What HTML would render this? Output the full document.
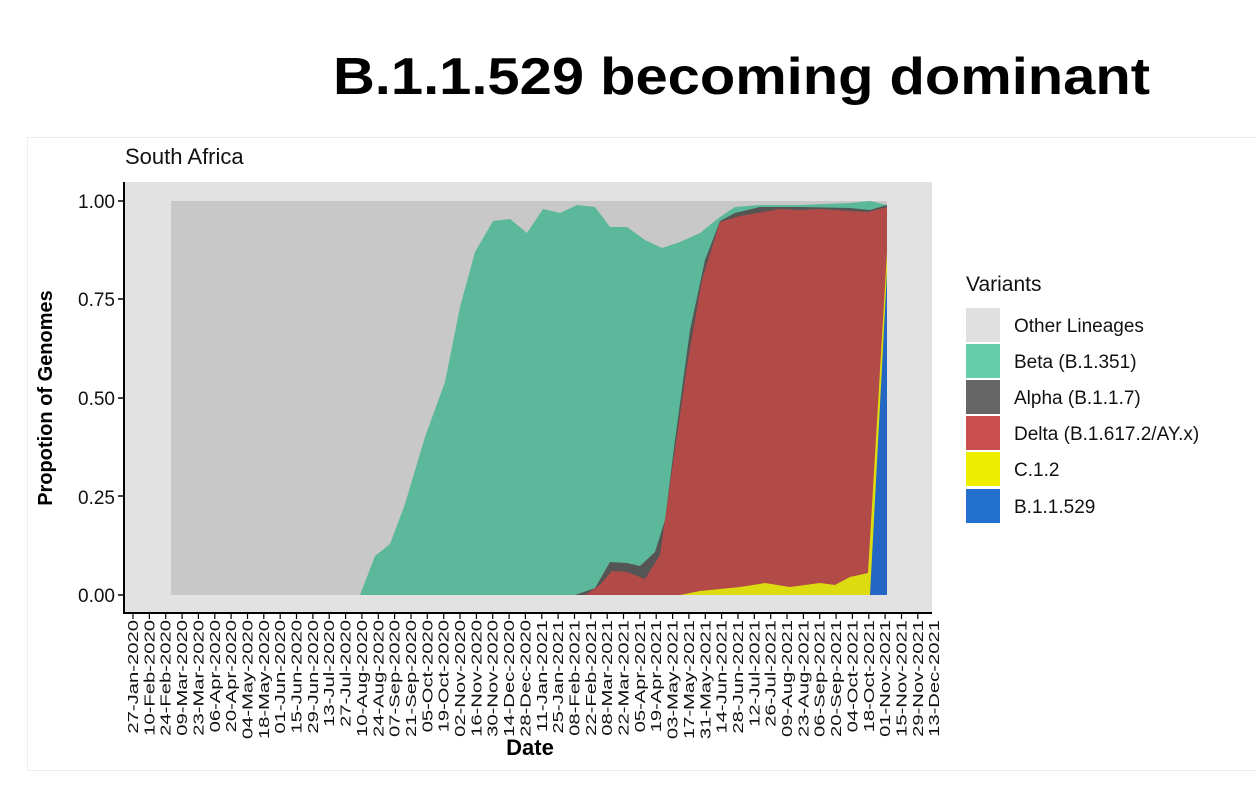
<!DOCTYPE html>
<html><head><meta charset="utf-8"><style>
html,body{margin:0;padding:0;background:#fff;}
svg{display:block;font-family:"Liberation Sans",sans-serif;}
</style></head><body>
<svg width="1256" height="806" viewBox="0 0 1256 806" xmlns="http://www.w3.org/2000/svg">
<rect x="0" y="0" width="1256" height="806" fill="#fff"/>
<rect x="27.5" y="137.5" width="1240" height="633" fill="#fff" stroke="#eeeeee"/>
<text x="333" y="94" font-size="52" font-weight="bold" textLength="817" lengthAdjust="spacingAndGlyphs">B.1.1.529 becoming dominant</text>
<text x="125" y="164" font-size="22" fill="#111">South Africa</text>
<rect x="124" y="182" width="808" height="431" fill="#e2e2e2"/>
<rect x="171" y="201" width="716" height="394" fill="#c8c8c8"/>
<polygon fill="#5bb89a" points="360,595 375,556 390,544 405,504 425,437 445,382 460,307 475,252 493,221 510,219 527,233 543,209 560,213 577,205 595,207 610,227 627,227 645,240 662,248 680,242 700,233 720,217 735,207 760,205 800,205 850,203 870,201 887,205 887,595"/>
<polygon fill="#555" points="575,595 595,588 610,562 627,563 640,566 655,552 665,520 675,440 690,330 705,260 720,221 735,213 760,207 800,207 850,208 870,210 887,205 887,595"/>
<polygon fill="#b24a48" points="585,595 600,585 612,571 627,572 645,579 660,555 672,470 688,360 702,280 720,222 740,216 780,209 800,210 820,209 850,211 868,212 887,207 887,595"/>
<polygon fill="#dcdc10" points="680,595 700,591 740,587 765,583 790,587 820,583 835,585 850,577 868,573 887,252 887,595"/>
<polygon fill="#2366c4" points="870,595 887,272 887,595"/>
<line x1="124" y1="182" x2="124" y2="614" stroke="#000" stroke-width="2"/>
<line x1="123" y1="613" x2="932" y2="613" stroke="#000" stroke-width="2"/>
<g font-size="19" text-anchor="end" fill="#111">
<text x="115" y="208">1.00</text><text x="115" y="306">0.75</text><text x="115" y="405">0.50</text><text x="115" y="504">0.25</text><text x="115" y="602">0.00</text>
</g>
<g stroke="#000" stroke-width="1.5">
<line x1="118" y1="201" x2="124" y2="201"/><line x1="118" y1="299" x2="124" y2="299"/><line x1="118" y1="398" x2="124" y2="398"/><line x1="118" y1="496" x2="124" y2="496"/><line x1="118" y1="595" x2="124" y2="595"/>
</g>
<text transform="translate(52,398) rotate(-90)" font-size="20" font-weight="bold" text-anchor="middle">Propotion of Genomes</text>
<text x="530" y="755" font-size="22" font-weight="bold" text-anchor="middle">Date</text>
<text x="966" y="291" font-size="21" fill="#111">Variants</text>
<rect x="966" y="308" width="34" height="34" fill="#e0e0e0"/>
<rect x="966" y="344" width="34" height="34" fill="#66cdaa"/>
<rect x="966" y="380" width="34" height="34" fill="#666"/>
<rect x="966" y="416" width="34" height="34" fill="#c9504e"/>
<rect x="966" y="452" width="34" height="34" fill="#eeee00"/>
<rect x="966" y="489" width="34" height="34" fill="#2470cf"/>
<g font-size="19" fill="#111">
<text x="1014" y="332">Other Lineages</text>
<text x="1014" y="368">Beta (B.1.351)</text>
<text x="1014" y="404">Alpha (B.1.1.7)</text>
<text x="1014" y="440">Delta (B.1.617.2/AY.x)</text>
<text x="1014" y="476">C.1.2</text>
<text x="1014" y="513">B.1.1.529</text>
</g>
<g font-size="15" fill="#111" text-anchor="end">
<text transform="translate(138,620) rotate(-90) scale(1.35,1)">27-Jan-2020</text>
<text transform="translate(154.4,620) rotate(-90) scale(1.35,1)">10-Feb-2020</text>
<text transform="translate(170.7,620) rotate(-90) scale(1.35,1)">24-Feb-2020</text>
<text transform="translate(187.1,620) rotate(-90) scale(1.35,1)">09-Mar-2020</text>
<text transform="translate(203.4,620) rotate(-90) scale(1.35,1)">23-Mar-2020</text>
<text transform="translate(219.8,620) rotate(-90) scale(1.35,1)">06-Apr-2020</text>
<text transform="translate(236.1,620) rotate(-90) scale(1.35,1)">20-Apr-2020</text>
<text transform="translate(252.5,620) rotate(-90) scale(1.35,1)">04-May-2020</text>
<text transform="translate(268.8,620) rotate(-90) scale(1.35,1)">18-May-2020</text>
<text transform="translate(285.2,620) rotate(-90) scale(1.35,1)">01-Jun-2020</text>
<text transform="translate(301.5,620) rotate(-90) scale(1.35,1)">15-Jun-2020</text>
<text transform="translate(317.9,620) rotate(-90) scale(1.35,1)">29-Jun-2020</text>
<text transform="translate(334.2,620) rotate(-90) scale(1.35,1)">13-Jul-2020</text>
<text transform="translate(350.6,620) rotate(-90) scale(1.35,1)">27-Jul-2020</text>
<text transform="translate(366.9,620) rotate(-90) scale(1.35,1)">10-Aug-2020</text>
<text transform="translate(383.3,620) rotate(-90) scale(1.35,1)">24-Aug-2020</text>
<text transform="translate(399.6,620) rotate(-90) scale(1.35,1)">07-Sep-2020</text>
<text transform="translate(416,620) rotate(-90) scale(1.35,1)">21-Sep-2020</text>
<text transform="translate(432.3,620) rotate(-90) scale(1.35,1)">05-Oct-2020</text>
<text transform="translate(448.7,620) rotate(-90) scale(1.35,1)">19-Oct-2020</text>
<text transform="translate(465,620) rotate(-90) scale(1.35,1)">02-Nov-2020</text>
<text transform="translate(481.4,620) rotate(-90) scale(1.35,1)">16-Nov-2020</text>
<text transform="translate(497.7,620) rotate(-90) scale(1.35,1)">30-Nov-2020</text>
<text transform="translate(514.1,620) rotate(-90) scale(1.35,1)">14-Dec-2020</text>
<text transform="translate(530.4,620) rotate(-90) scale(1.35,1)">28-Dec-2020</text>
<text transform="translate(546.8,620) rotate(-90) scale(1.35,1)">11-Jan-2021</text>
<text transform="translate(563.1,620) rotate(-90) scale(1.35,1)">25-Jan-2021</text>
<text transform="translate(579.5,620) rotate(-90) scale(1.35,1)">08-Feb-2021</text>
<text transform="translate(595.8,620) rotate(-90) scale(1.35,1)">22-Feb-2021</text>
<text transform="translate(612.2,620) rotate(-90) scale(1.35,1)">08-Mar-2021</text>
<text transform="translate(628.5,620) rotate(-90) scale(1.35,1)">22-Mar-2021</text>
<text transform="translate(644.9,620) rotate(-90) scale(1.35,1)">05-Apr-2021</text>
<text transform="translate(661.2,620) rotate(-90) scale(1.35,1)">19-Apr-2021</text>
<text transform="translate(677.6,620) rotate(-90) scale(1.35,1)">03-May-2021</text>
<text transform="translate(693.9,620) rotate(-90) scale(1.35,1)">17-May-2021</text>
<text transform="translate(710.3,620) rotate(-90) scale(1.35,1)">31-May-2021</text>
<text transform="translate(726.6,620) rotate(-90) scale(1.35,1)">14-Jun-2021</text>
<text transform="translate(743,620) rotate(-90) scale(1.35,1)">28-Jun-2021</text>
<text transform="translate(759.3,620) rotate(-90) scale(1.35,1)">12-Jul-2021</text>
<text transform="translate(775.7,620) rotate(-90) scale(1.35,1)">26-Jul-2021</text>
<text transform="translate(792,620) rotate(-90) scale(1.35,1)">09-Aug-2021</text>
<text transform="translate(808.4,620) rotate(-90) scale(1.35,1)">23-Aug-2021</text>
<text transform="translate(824.7,620) rotate(-90) scale(1.35,1)">06-Sep-2021</text>
<text transform="translate(841.1,620) rotate(-90) scale(1.35,1)">20-Sep-2021</text>
<text transform="translate(857.4,620) rotate(-90) scale(1.35,1)">04-Oct-2021</text>
<text transform="translate(873.8,620) rotate(-90) scale(1.35,1)">18-Oct-2021</text>
<text transform="translate(890.1,620) rotate(-90) scale(1.35,1)">01-Nov-2021</text>
<text transform="translate(906.5,620) rotate(-90) scale(1.35,1)">15-Nov-2021</text>
<text transform="translate(922.8,620) rotate(-90) scale(1.35,1)">29-Nov-2021</text>
<text transform="translate(939,620) rotate(-90) scale(1.35,1)">13-Dec-2021</text>
</g>
<path stroke="#000" stroke-width="1.2" d="M133,613v6M149.4,613v6M165.7,613v6M182.1,613v6M198.4,613v6M214.8,613v6M231.1,613v6M247.5,613v6M263.8,613v6M280.2,613v6M296.5,613v6M312.9,613v6M329.2,613v6M345.6,613v6M361.9,613v6M378.3,613v6M394.6,613v6M411,613v6M427.3,613v6M443.7,613v6M460,613v6M476.4,613v6M492.7,613v6M509.1,613v6M525.4,613v6M541.8,613v6M558.1,613v6M574.5,613v6M590.8,613v6M607.2,613v6M623.5,613v6M639.9,613v6M656.2,613v6M672.6,613v6M688.9,613v6M705.3,613v6M721.6,613v6M738,613v6M754.3,613v6M770.7,613v6M787,613v6M803.4,613v6M819.7,613v6M836.1,613v6M852.4,613v6M868.8,613v6M885.1,613v6M901.5,613v6M917.8,613v6"/>
</svg>
</body></html>
